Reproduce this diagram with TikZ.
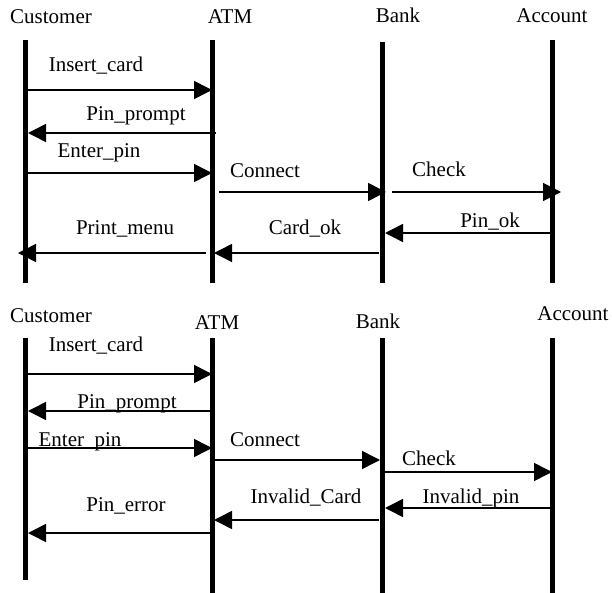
\documentclass[tikz,border=0pt]{standalone}
\usepackage{fontspec}
\setmainfont{Liberation Serif}
\usetikzlibrary{arrows.meta}
\tikzset{lbl/.style={anchor=base, inner sep=0pt, font=\fontsize{21}{25}\selectfont},
         life/.style={line width=5pt},
         msg/.style={line width=1.5pt, -{Triangle[length=18pt,width=18pt]}}}

\begin{document}
\begin{tikzpicture}[x=1pt, y=-1pt]
                \useasboundingbox (0,0) rectangle (612,593);
                % first scenario
                \node[lbl] (cust) at (51,24)  {Customer};
                \node[lbl] (atm)  at (230,24) {ATM};
                \node[lbl] (bank) at (398,23) {Bank};
                \node[lbl] (acct) at (552,23) {Account};
                \coordinate (c1) at (25,40);  \coordinate (c2) at (25,283);
                \coordinate (a1) at (212,40); \coordinate (a2) at (212,283);
                \coordinate (b1) at (382,42); \coordinate (b2) at (382,283);
                \coordinate (d1) at (552,40); \coordinate (d2) at (552,283);
                \draw[life] (c1) -- (c2);
                \draw[life] (a1) -- (a2);
                \draw[life] (b1) -- (b2);
                \draw[life] (d1) -- (d2);
                \draw[msg] (c1 |- 0,90)  -- (a1 |- 0,90);
                \draw[msg, shorten <=-4pt, shorten >=3pt] (a1 |- 0,133) -- (c1 |- 0,133);
                \draw[msg] (c1 |- 0,173) -- (a1 |- 0,173);
                \draw[msg, shorten <=7pt, shorten >=-4pt] (a1 |- 0,192) -- (b1 |- 0,192);
                \draw[msg, shorten <=10pt, shorten >=-9pt] (b1 |- 0,192) -- (d1 |- 0,192);
                \draw[msg, shorten >=3pt] (d1 |- 0,233) -- (b1 |- 0,233);
                \draw[msg, shorten <=3pt, shorten >=2pt] (b1 |- 0,253) -- (a1 |- 0,253);
                \draw[msg, shorten <=6pt, shorten >=-7pt] (a1 |- 0,253) -- (c1 |- 0,253);
                \node[lbl] (ins1) at (96,72)   {Insert\_card};
                \node[lbl] (pro1) at (136,121) {Pin\_prompt};
                \node[lbl] (ent1) at (99,158)  {Enter\_pin};
                \node[lbl] (con1) at (265,178) {Connect};
                \node[lbl] (chk1) at (439,177) {Check};
                \node[lbl] (pok1) at (490,228) {Pin\_ok};
                \node[lbl] (cok1) at (305,235) {Card\_ok};
                \node[lbl] (prm1) at (125,235) {Print\_menu};
                % second scenario
                \node[lbl] (cust2) at (51,322)  {Customer};
                \node[lbl] (atm2)  at (217,329) {ATM};
                \node[lbl] (bank2) at (378,328) {Bank};
                \node[lbl] (acct2) at (573,320) {Account};
                \coordinate (c3) at (25,338);  \coordinate (c4) at (25,580);
                \coordinate (a3) at (212,338); \coordinate (a4) at (212,593);
                \coordinate (b3) at (382,338); \coordinate (b4) at (382,593);
                \coordinate (d3) at (552,338); \coordinate (d4) at (552,593);
                \draw[life] (c3) -- (c4);
                \draw[life] (a3) -- (a4);
                \draw[life] (b3) -- (b4);
                \draw[life] (d3) -- (d4);
                \draw[msg] (c3 |- 0,374) -- (a3 |- 0,374);
                \draw[msg, shorten >=3pt] (a3 |- 0,411) -- (c3 |- 0,411);
                \draw[msg] (c3 |- 0,448) -- (a3 |- 0,448);
                \draw[msg, shorten >=2pt] (a3 |- 0,460) -- (b3 |- 0,460);
                \draw[msg] (b3 |- 0,472) -- (d3 |- 0,472);
                \draw[msg, shorten >=3pt] (d3 |- 0,508) -- (b3 |- 0,508);
                \draw[msg, shorten <=3pt, shorten >=2pt] (b3 |- 0,520) -- (a3 |- 0,520);
                \draw[msg, shorten >=3pt] (a3 |- 0,533) -- (c3 |- 0,533);
                \node[lbl] (ins2) at (96,351)  {Insert\_card};
                \node[lbl] (pro2) at (127,408) {Pin\_prompt};
                \node[lbl] (ent2) at (80,446)  {Enter\_pin};
                \node[lbl] (con2) at (265,446) {Connect};
                \node[lbl] (chk2) at (429,465) {Check};
                \node[lbl] (ipn2) at (471,503) {Invalid\_pin};
                \node[lbl] (icd2) at (306,503) {Invalid\_Card};
                \node[lbl] (per2) at (126,511) {Pin\_error};
              \end{tikzpicture}
\end{document}
